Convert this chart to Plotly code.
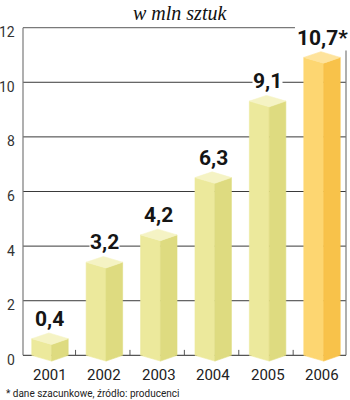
import plotly.graph_objects as go

# Production, millions of units
years = ["2001", "2002", "2003", "2004", "2005", "2006"]
values = [0.4, 3.2, 4.2, 6.3, 9.1, 10.7]
value_marks = ["", "", "", "", "", "*"]
y_ticks = [0, 2, 4, 6, 8, 10, 12]
title_text = "w mln sztuk"
footnote_text = "* dane szacunkowe, źródło: producenci"

# Face colours: left face, right face, top face
regular_faces = ("#ece99c", "#dedb80", "#f5f3c4")
highlight_faces = ("#fdd671", "#f8c24a", "#fee39c")

# Prism geometry, in axis units
half_w = 0.335
depth = 0.21
front_dx = 0.03
back_dx = -0.02

fig = go.Figure()

for i, (yr, v) in enumerate(zip(years, values)):
    left_c, right_c, top_c = highlight_faces if i == len(years) - 1 else regular_faces
    xl, xr = i - half_w, i + half_w
    xf, xb = i + front_dx, i + back_dx
    faces = [
        ([xl, xf, xf, xl, xl], [0, -depth, v, v + depth, 0], left_c),
        ([xf, xr, xr, xf, xf], [-depth, 0, v + depth, v, -depth], right_c),
        ([xl, xf, xr, xb, xl], [v + depth, v, v + depth, v + 2 * depth, v + depth], top_c),
    ]
    for fx, fy, col in faces:
        fig.add_trace(go.Scatter(
            x=fx, y=fy, mode="lines", fill="toself", fillcolor=col,
            line=dict(color=col, width=0.6), hoverinfo="skip", showlegend=False,
        ))
    # value label above the prism
    label = f"{v:.1f}".replace(".", ",") + value_marks[i]
    fig.add_annotation(
        x=i, y=v + 2 * depth, text=f"<b>{label}</b>", showarrow=False,
        yanchor="bottom", yshift=1, bgcolor="white", borderpad=0,
        font=dict(family="Roboto", size=21, color="#151515"),
    )
    # category label under the axis
    fig.add_annotation(
        x=i, y=0, text=yr, showarrow=False, yanchor="top", yshift=-9,
        font=dict(family="Roboto", size=15, color="#222222"),
    )

shapes = []
# horizontal grid lines
for t in y_ticks[1:-1]:
    shapes.append(dict(type="line", xref="paper", x0=0, x1=1, yref="y", y0=t, y1=t,
                       line=dict(color="#3a3a3a", width=1), layer="below"))
# frame: top, left, right, baseline
shapes.append(dict(type="line", xref="paper", x0=0, x1=0.842, yref="y", y0=12, y1=12,
                   line=dict(color="#7a7a7a", width=1.2), layer="below"))
shapes.append(dict(type="line", xref="paper", x0=0, x1=0, yref="y", y0=0, y1=12,
                   line=dict(color="#7a7a7a", width=1.2), layer="below"))
shapes.append(dict(type="line", xref="paper", x0=1, x1=1, yref="y", y0=0, y1=11.26,
                   line=dict(color="#7a7a7a", width=1.2), layer="below"))
shapes.append(dict(type="line", xref="paper", x0=0, x1=1, yref="y", y0=0, y1=0,
                   line=dict(color="#555555", width=1.2), layer="below"))
# small separators between categories
for i in range(len(years) - 1):
    shapes.append(dict(type="line", xref="x", x0=i + 0.47, x1=i + 0.47, yref="y", y0=0, y1=0.2,
                       line=dict(color="#555555", width=1), layer="below"))

# y-axis labels, set just below their grid lines
for t in y_ticks:
    fig.add_annotation(
        xref="paper", x=-0.0186, y=t, text=str(t), showarrow=False,
        xanchor="right", yshift=-4.5,
        font=dict(family="Roboto", size=14, color="#333333"),
    )

fig.add_annotation(
    xref="paper", yref="paper", x=0.486, y=1.003, text=f"<i>{title_text}</i>",
    showarrow=False, yanchor="middle",
    font=dict(family="Liberation Serif", size=20, color="#111111"),
)
fig.add_annotation(
    xref="paper", yref="paper", x=-0.0557, y=-0.086, text=footnote_text,
    showarrow=False, xanchor="left", yanchor="bottom", borderpad=0,
    font=dict(family="Roboto", size=10, color="#222222"),
)

fig.update_layout(
    width=350, height=400,
    margin=dict(l=23, r=4, t=14, b=31),
    paper_bgcolor="white", plot_bgcolor="white",
    shapes=shapes,
    xaxis=dict(range=[-0.496, 5.441], visible=False, fixedrange=True),
    yaxis=dict(range=[-0.5, 12.5], visible=False, fixedrange=True),
    showlegend=False,
)

fig.write_html("out.html", config={"displayModeBar": False})
